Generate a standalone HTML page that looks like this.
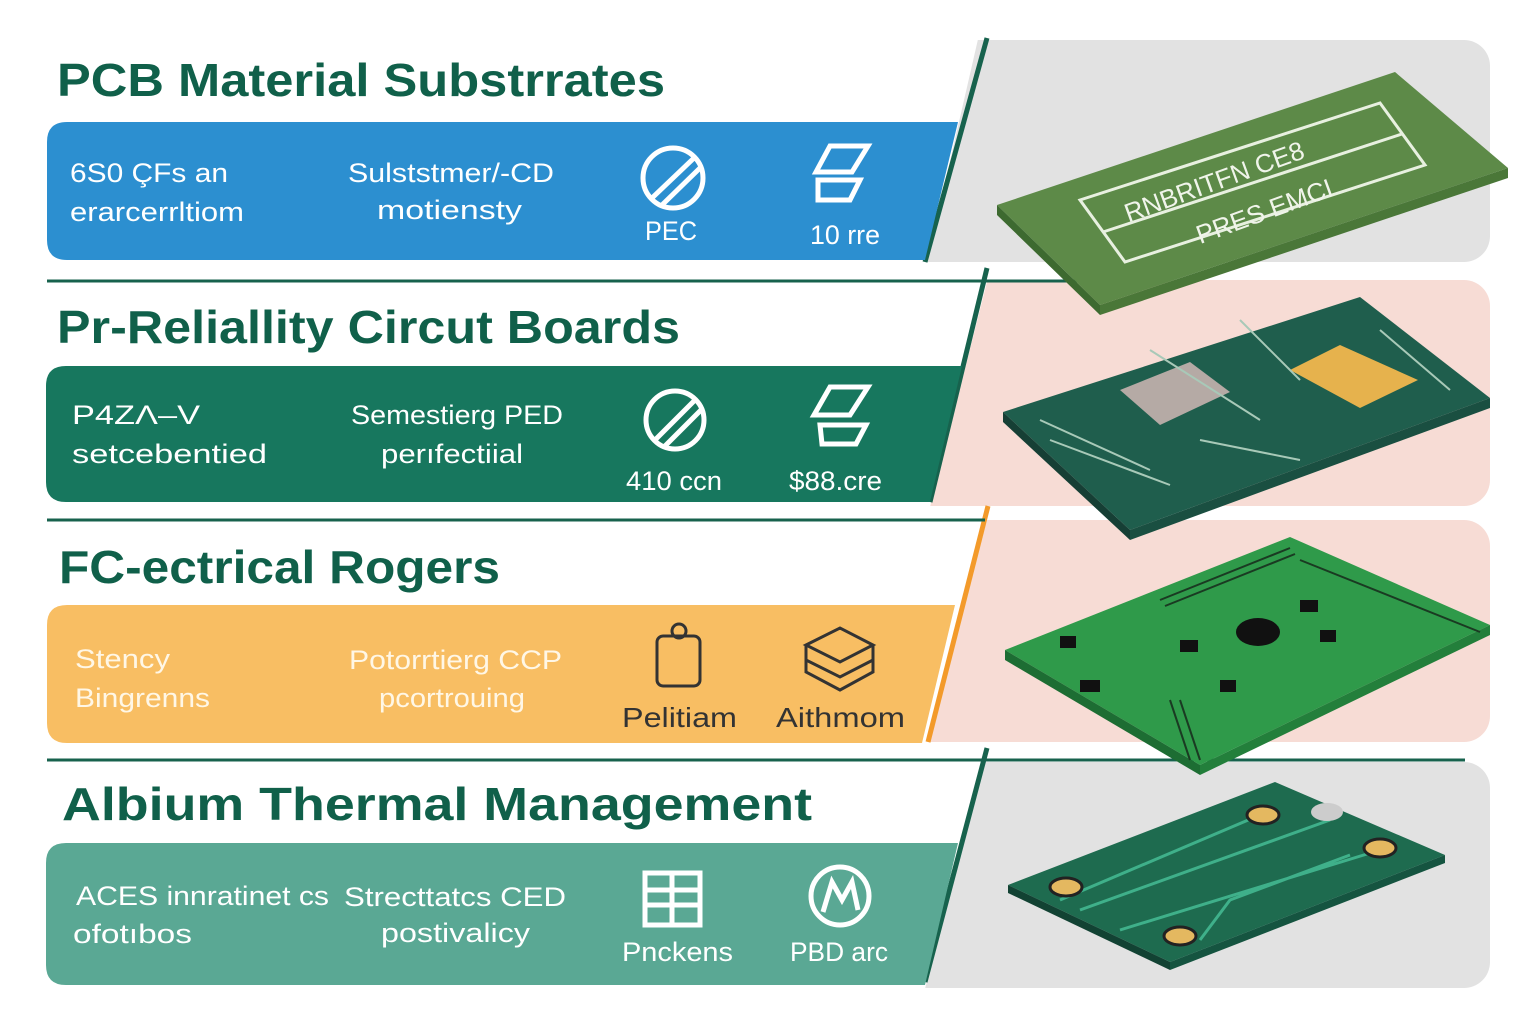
<!DOCTYPE html>
<html><head><meta charset="utf-8"><style>
html,body{margin:0;padding:0;background:#fff;}
svg{display:block;}
text{font-family:"Liberation Sans",sans-serif;}
</style></head><body>
<svg width="1536" height="1024" viewBox="0 0 1536 1024" xmlns="http://www.w3.org/2000/svg">
<defs>
<clipPath id="c1"><polygon points="987,0 1536,0 1536,270 925,270"/></clipPath>
<clipPath id="c2"><polygon points="990,270 1536,270 1536,515 928,515"/></clipPath>
<clipPath id="c3"><polygon points="991,505 1536,505 1536,750 926,750"/></clipPath>
<clipPath id="c4"><polygon points="990,745 1536,745 1536,1000 922,1000"/></clipPath>
</defs>
<!-- right panels -->
<rect x="880" y="40" width="610" height="222" rx="26" fill="#e2e2e2" clip-path="url(#c1)"/>
<rect x="880" y="280" width="610" height="226" rx="26" fill="#f7dcd5" clip-path="url(#c2)"/>
<rect x="880" y="520" width="610" height="222" rx="26" fill="#f7dcd5" clip-path="url(#c3)"/>
<rect x="880" y="762" width="610" height="226" rx="26" fill="#e2e2e2" clip-path="url(#c4)"/>
<!-- slanted lines -->
<line x1="987" y1="38" x2="925" y2="262" stroke="#17624d" stroke-width="5"/>
<line x1="987" y1="268" x2="930" y2="502" stroke="#17624d" stroke-width="5"/>
<line x1="988" y1="506" x2="928" y2="742" stroke="#f39a2a" stroke-width="5"/>
<line x1="987" y1="748" x2="925" y2="982" stroke="#17624d" stroke-width="5"/>
<!-- dividers -->
<line x1="47" y1="281" x2="1110" y2="281" stroke="#17624d" stroke-width="3"/>
<line x1="47" y1="520" x2="985" y2="520" stroke="#17624d" stroke-width="3"/>
<line x1="47" y1="760" x2="1465" y2="760" stroke="#17624d" stroke-width="3"/>
<!-- bands -->
<path d="M67,122 H958 L925,260 H67 Q47,260 47,240 V142 Q47,122 67,122Z" fill="#2c8fd0"/>
<path d="M66,366 H962 L930,502 H66 Q46,502 46,482 V386 Q46,366 66,366Z" fill="#17775e"/>
<path d="M67,605 H955 L922,743 H67 Q47,743 47,723 V625 Q47,605 67,605Z" fill="#f8be63"/>
<path d="M66,843 H958 L925,985 H66 Q46,985 46,965 V863 Q46,843 66,843Z" fill="#5aa894"/>
<!-- titles -->
<g fill="#10604a" font-weight="bold" font-size="46" lengthAdjust="spacingAndGlyphs">
<text x="57" y="96" textLength="608" lengthAdjust="spacingAndGlyphs">PCB Material Substrrates</text>
<text x="57" y="343" textLength="623" lengthAdjust="spacingAndGlyphs">Pr-Reliallity Circut Boards</text>
<text x="59" y="583" textLength="441" lengthAdjust="spacingAndGlyphs">FC-ectrical Rogers</text>
<text x="62" y="820" textLength="750" lengthAdjust="spacingAndGlyphs">Albium Thermal Management</text>
</g>
<!-- band text -->
<g fill="#fff" font-size="27">
<text x="70" y="182" textLength="158" lengthAdjust="spacingAndGlyphs">6S0 ÇFs an</text>
<text x="70" y="221" textLength="174" lengthAdjust="spacingAndGlyphs">erarcerrltiom</text>
<text x="348" y="182" textLength="206" lengthAdjust="spacingAndGlyphs">Sulststmer/-CD</text>
<text x="377" y="219" textLength="145" lengthAdjust="spacingAndGlyphs">motiensty</text>
<text x="645" y="240" textLength="52" lengthAdjust="spacingAndGlyphs">PEC</text>
<text x="810" y="244" textLength="70" lengthAdjust="spacingAndGlyphs">10 rre</text>
<text x="72" y="424" textLength="128" lengthAdjust="spacingAndGlyphs">P4ZΛ–V</text>
<text x="72" y="463" textLength="195" lengthAdjust="spacingAndGlyphs">setcebentied</text>
<text x="351" y="424" textLength="212" lengthAdjust="spacingAndGlyphs">Semestierg PED</text>
<text x="381" y="463" textLength="142" lengthAdjust="spacingAndGlyphs">perıfectiial</text>
<text x="626" y="490" textLength="96" lengthAdjust="spacingAndGlyphs">410 ccn</text>
<text x="789" y="490" textLength="93" lengthAdjust="spacingAndGlyphs">$88.cre</text>
</g>
<g fill="#fff7e6" font-size="27">
<text x="75" y="668" textLength="95" lengthAdjust="spacingAndGlyphs">Stency</text>
<text x="75" y="707" textLength="135" lengthAdjust="spacingAndGlyphs">Bingrenns</text>
<text x="349" y="669" textLength="213" lengthAdjust="spacingAndGlyphs">Potorrtierg CCP</text>
<text x="379" y="707" textLength="146" lengthAdjust="spacingAndGlyphs">pcortrouing</text>
</g>
<g fill="#333" font-size="28">
<text x="622" y="727" textLength="115" lengthAdjust="spacingAndGlyphs">Pelitiam</text>
<text x="776" y="727" textLength="129" lengthAdjust="spacingAndGlyphs">Aithmom</text>
</g>
<g fill="#fff" font-size="27">
<text x="76" y="905" textLength="253" lengthAdjust="spacingAndGlyphs">ACES innratinet cs</text>
<text x="73" y="943" textLength="119" lengthAdjust="spacingAndGlyphs">ofotıbos</text>
<text x="344" y="906" textLength="222" lengthAdjust="spacingAndGlyphs">Strecttatcs CED</text>
<text x="381" y="942" textLength="149" lengthAdjust="spacingAndGlyphs">postivalicy</text>
<text x="622" y="961" textLength="111" lengthAdjust="spacingAndGlyphs">Pnckens</text>
<text x="790" y="961" textLength="98" lengthAdjust="spacingAndGlyphs">PBD arc</text>
</g>
<!-- icons -->
<g fill="none" stroke="#fff" stroke-width="5">
<circle cx="673" cy="178" r="30"/><line x1="652" y1="198" x2="694" y2="158"/><line x1="662" y1="205" x2="700" y2="168"/>
<path d="M830,146 H868 L852,172 H816 Z M818,180 H860 L850,200 H818 Z"/>
<circle cx="675" cy="420" r="29"/><line x1="655" y1="440" x2="695" y2="400"/><line x1="665" y1="446" x2="701" y2="410"/>
<path d="M830,387 H868 L850,415 H814 Z M820,425 H866 L856,444 H822 Z"/>
<path d="M645,873 H700 V925 H645 Z M645,890 H700 M645,905 H700 M672,873 V925"/>
<circle cx="840" cy="896" r="29"/><path d="M823,912 L832,882 L842,900 L852,882 L858,910"/>
</g>
<g fill="none" stroke="#333" stroke-width="3">
<rect x="657" y="636" width="43" height="50" rx="6"/><circle cx="679" cy="631" r="7"/>
<path d="M806,645 L840,628 L873,645 L840,662 Z M806,645 V672 L840,690 L873,672 V645 M806,660 L840,677 L873,660"/>
</g>
<!-- board 1 -->
<polygon points="997,205 1395,72 1508,168 1100,305" fill="#5d8a48"/>
<polygon points="997,205 1100,305 1100,315 997,215" fill="#3d6a30"/>
<polygon points="1100,305 1508,168 1508,178 1100,315" fill="#4a7738"/>
<g fill="none" stroke="#e8f0e0" stroke-width="3">
<polygon points="1080,200 1380,103 1425,165 1125,262"/>
<line x1="1103" y1="232" x2="1402" y2="134"/>
</g>
<g fill="#f0f4ea" font-size="26" transform="rotate(-20 1230 180)">
<text x="1120" y="185">RNBRITFN CE8</text><text x="1180" y="230">PRES EMCI</text>
</g>
<!-- board 2 -->
<polygon points="1003,412 1360,297 1490,398 1130,530" fill="#1f5e4d"/>
<polygon points="1003,412 1130,530 1130,540 1003,422" fill="#163f35"/>
<polygon points="1130,530 1490,398 1490,408 1130,540" fill="#1a4f41"/>
<polygon points="1290,370 1340,345 1418,380 1360,408" fill="#e6b24d"/>
<polygon points="1120,390 1190,362 1230,392 1160,425" fill="#b5aaa5"/>
<g stroke="#a8c9b8" stroke-width="2" fill="none">
<path d="M1040,420 L1150,470 M1050,440 L1170,485 M1200,440 L1300,460 M1240,320 L1300,380 M1380,330 L1450,390 M1150,350 L1260,420"/>
</g>
<!-- board 3 -->
<polygon points="1005,650 1290,537 1490,625 1200,765" fill="#2f9a4a"/>
<polygon points="1005,650 1200,765 1200,775 1005,660" fill="#1d6d33"/>
<polygon points="1200,765 1490,625 1490,635 1200,775" fill="#237f3b"/>
<ellipse cx="1258" cy="632" rx="22" ry="14" fill="#111"/>
<g fill="#111">
<rect x="1180" y="640" width="18" height="12"/><rect x="1300" y="600" width="18" height="12"/>
<rect x="1320" y="630" width="16" height="12"/><rect x="1080" y="680" width="20" height="12"/>
<rect x="1220" y="680" width="16" height="12"/><rect x="1060" y="636" width="16" height="12"/>
</g>
<g stroke="#1a3a22" stroke-width="2">
<path d="M1160,600 L1290,548 M1165,606 L1295,554 M1300,560 L1480,632 M1170,700 L1190,760 M1180,700 L1200,760"/>
</g>
<!-- board 4 -->
<polygon points="1008,885 1275,782 1445,855 1170,962" fill="#1e6b4f"/>
<polygon points="1008,885 1170,962 1170,970 1008,893" fill="#124233"/>
<polygon points="1170,962 1445,855 1445,863 1170,970" fill="#155440"/>
<g stroke="#3fb08a" stroke-width="3" fill="none">
<path d="M1060,900 L1260,815 M1080,910 L1330,820 M1120,930 L1380,850 M1200,940 L1230,900 L1350,855"/>
</g>
<g fill="#e4b860" stroke="#222" stroke-width="3">
<ellipse cx="1066" cy="887" rx="16" ry="9"/><ellipse cx="1263" cy="815" rx="16" ry="9"/>
<ellipse cx="1380" cy="848" rx="16" ry="9"/><ellipse cx="1180" cy="936" rx="16" ry="9"/>
</g>
<ellipse cx="1327" cy="812" rx="16" ry="9" fill="#ccc"/>
</svg>
</body></html>
